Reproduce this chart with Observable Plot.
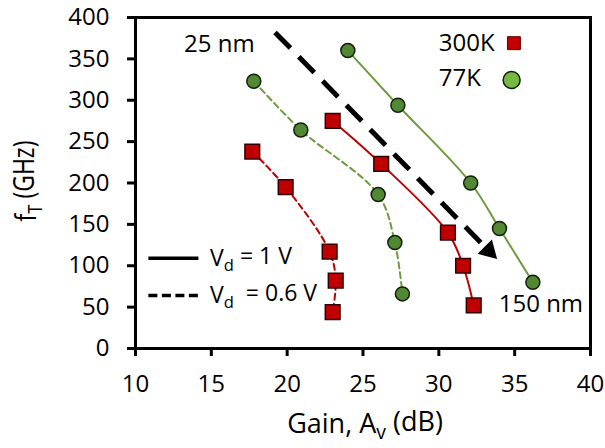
<!DOCTYPE html>
<html><head><meta charset="utf-8">
<script src="https://cdn.jsdelivr.net/npm/d3@7"></script>
<script src="https://cdn.jsdelivr.net/npm/@observablehq/plot@0.6"></script>
<style>
body{margin:0;background:#fff;}
#chart svg{font-family:"Open Sans",sans-serif;}
#chart g[aria-label*="tick"] path, #chart g[aria-label*="axis"] line{stroke-width:3;}
</style></head><body><div id="chart"></div>
<script>
const xTicks = [10,15,20,25,30,35,40];
const yTicks = [0,50,100,150,200,250,300,350,400];
const gain300_1 = [23.0, 26.2, 30.6, 31.6, 32.3];
const ft300_1   = [275, 223, 140, 100, 52];
const gain77_1  = [24.0, 27.3, 32.1, 34.0, 36.2];
const ft77_1    = [360, 294, 200, 145, 80];
const gain300_06 = [17.7, 19.9, 22.8, 23.2, 23.0];
const ft300_06   = [238, 195, 117, 82, 44];
const gain77_06  = [17.8, 20.9, 26.0, 27.1, 27.6];
const ft77_06    = [323, 264, 186, 128, 66];
const arrowX = [19.2, 33.3];
const arrowY = [382, 118];

const red = "#c00000", green = "#528733", greenLine = "#6e9b3e", greenLight = "#76b843";
const series = (g, f) => g.map((x, i) => ({x, y: f[i]}));
const s300_1 = series(gain300_1, ft300_1), s77_1 = series(gain77_1, ft77_1);
const s300_06 = series(gain300_06, ft300_06), s77_06 = series(gain77_06, ft77_06);
const dash = "6,4";

const chart = Plot.plot({
  width: 605, height: 448,
  marginLeft: 135, marginRight: 15, marginTop: 17, marginBottom: 100,
  style: {fontSize: "24px", color: "#000", background: "#fff", overflow: "visible"},
  x: {domain: [10, 40], ticks: xTicks, tickSize: 8, tickPadding: 18, label: null},
  y: {domain: [0, 400], ticks: yTicks, tickSize: 8, tickPadding: 18, label: null},
  marks: [
    Plot.frame({stroke: "#000", strokeWidth: 3}),
    Plot.line(s300_1, {x: "x", y: "y", stroke: red, strokeWidth: 2, curve: "catmull-rom"}),
    Plot.line(s77_1, {x: "x", y: "y", stroke: greenLine, strokeWidth: 2, curve: "catmull-rom"}),
    Plot.line(s300_06, {x: "x", y: "y", stroke: red, strokeWidth: 2, strokeDasharray: dash, curve: "catmull-rom"}),
    Plot.line(s77_06, {x: "x", y: "y", stroke: greenLine, strokeWidth: 2, strokeDasharray: dash, curve: "catmull-rom"}),
    Plot.link([0], {x1: () => arrowX[0], y1: () => arrowY[0], x2: () => arrowX[1], y2: () => arrowY[1], stroke: "#000", strokeWidth: 5, strokeDasharray: "22,12"}),
    Plot.dot([0], {x: () => arrowX[1], y: () => arrowY[1], symbol: "triangle", r: 7.5, fill: "#000", rotate: 135}),
    Plot.dot(s300_1.concat(s300_06), {x: "x", y: "y", symbol: "square", r: 8.3, fill: red, stroke: "#300", strokeWidth: 1.5}),
    Plot.dot(s77_1.concat(s77_06), {x: "x", y: "y", r: 7, fill: green, stroke: "#102008", strokeWidth: 1.5}),
    Plot.text(["25 nm"], {x: 13.2, y: 367, text: d => d, textAnchor: "start", fontSize: 24}),
    Plot.text(["150 nm"], {x: 33.95, y: 53, text: d => d, textAnchor: "start", fontSize: 24}),
    Plot.text(["300K", "77K"], {x: 30.0, y: (d, i) => [369, 326][i], text: d => d, textAnchor: "start", fontSize: 24}),
    Plot.dot([0], {x: 34.95, y: 369, symbol: "square", r: 7.3, fill: red, stroke: "#600", strokeWidth: 1}),
    Plot.dot([0], {x: 34.8, y: 324.5, r: 8.5, fill: greenLight, stroke: "#102008", strokeWidth: 1.5}),
    Plot.link([0], {x1: 10.85, x2: 14.15, y1: 109, y2: 109, stroke: "#000", strokeWidth: 3.5}),
    Plot.link([0], {x1: 10.85, x2: 14.2, y1: 64, y2: 64, stroke: "#000", strokeWidth: 3.5, strokeDasharray: "9,4.5"})
  ]
});
document.getElementById("chart").appendChild(chart);

const svg = d3.select(chart);
const sx = chart.scale("x"), sy = chart.scale("y");
function sub(sel, main, subTxt, rest) {
  sel.append("tspan").text(main);
  sel.append("tspan").attr("font-size", "0.72em").attr("dy", "0.3em").text(subTxt);
  sel.append("tspan").attr("dy", "-0.3em").text(rest);
}
const legTexts = [["V", "d", " = 1 V", 109], ["V", "d", "  = 0.6 V", 64]];
legTexts.forEach(([m, s, r, yv]) => {
  const t = svg.append("text").attr("x", sx.apply(14.95)).attr("y", sy.apply(yv)).attr("dy", "0.35em")
    .attr("text-anchor", "start").attr("font-size", 23).attr("fill", "#000").style("white-space", "pre");
  sub(t, m, s, r);
});
const xl = svg.append("text").attr("x", 365).attr("y", 433).attr("text-anchor", "middle").attr("font-size", 27).attr("fill", "#000");
sub(xl, "Gain, A", "v", " (dB)");
const yl = svg.append("text").attr("transform", "translate(36,181) rotate(-90) scale(1,1.25)").attr("text-anchor", "middle").attr("font-size", 23).attr("fill", "#000");
sub(yl, "f", "T", " (GHz)");
</script></body></html>
